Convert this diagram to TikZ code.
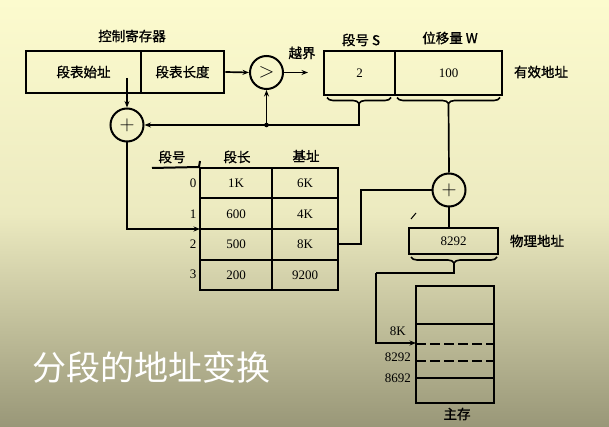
\documentclass[tikz,border=0pt]{standalone}
\usepackage{fontspec}
\setmainfont{Liberation Serif}
\newfontfamily\cjk{Noto Sans CJK SC}[AutoFakeBold=1.2]
\usetikzlibrary{arrows.meta,decorations.pathreplacing}
\definecolor{bgtop}{RGB}{252,251,206}
\definecolor{bgmid}{RGB}{236,234,192}
\definecolor{bgbot}{RGB}{153,151,120}
\begin{document}
\begin{tikzpicture}[x=1pt,y=-1pt,
  lab/.style={font=\cjk\bfseries\fontsize{13.5}{14}\selectfont, inner sep=0pt},
  num/.style={font=\fontsize{13}{14}\selectfont, inner sep=0pt},
  box/.style={draw, line width=2.6pt, inner sep=0pt, font=\cjk\bfseries\fontsize{13.5}{14}\selectfont},
  cell/.style={draw, line width=2pt, inner sep=0pt, minimum height=30.5, font=\fontsize{13}{14}\selectfont},
  conn/.style={line width=1.7pt},
  arr/.style={conn, -{Stealth[length=6.5pt,width=5pt]}},
  op/.style={circle, draw, line width=2pt, minimum size=33, inner sep=0pt, font=\fontsize{21}{21}\selectfont},
  brc/.style={decorate, decoration={brace, amplitude=6pt}, line width=1.6pt},
  dotted line/.style={line width=2pt, dash pattern=on 10pt off 4pt},
]
\fill[top color=bgtop, bottom color=bgbot, middle color=bgmid] (0,0) rectangle (609,427);

% control register
\node[lab] (ctl) at (132,36) {控制寄存器};
\node[box, minimum width=115, minimum height=42] (sbase) at (83.5,72) {段表始址};
\node[box, minimum width=83, minimum height=42] (slen) at (182.5,72) {段表长度};

% comparator and adder
\node[op] (cmp) at (266.5,72.5) {$>$};
\node[op] (add1) at (127,125) {$+$};
\node[lab] (ovf) at (302,53) {越界};
\coordinate (ovfend) at (308,72.5);

% effective address
\node[lab] (lS) at (361,40) {段号 S};
\node[lab] (lW) at (450,38) {位移量 W};
\node[box, minimum width=71, minimum height=44, font=\fontsize{13}{14}\selectfont] (segS) at (359.5,73) {2};
\node[box, minimum width=107, minimum height=44, font=\fontsize{13}{14}\selectfont] (offW) at (448.5,73) {100};
\node[lab] (eff) at (541,72) {有效地址};
\draw[brc] (391,97.5) -- (327,97.5);
\draw[brc] (500,97.5) -- (397,97.5);
\coordinate (bS) at (359,104);
\coordinate (bW) at (448.5,104);

% table
\node[lab] (h0) at (172,157) {段号};
\node[lab] (h1) at (237,157) {段长};
\node[lab] (h2) at (306,156) {基址};
\foreach \r/\a/\b in {0/1K/6K,1/600/4K,2/500/8K,3/200/9200}{
  \node[cell, minimum width=72] (c\r1) at (236,{183.25+30.5*\r}) {\a};
  \node[cell, minimum width=66] (c\r2) at (305,{183.25+30.5*\r}) {\b};
  \node[num] (r\r) at (193,{183.25+30.5*\r}) {\r};
}
\draw[line width=2pt] (152,168) -- (c01.north west);
\draw[line width=2pt] (200,161) -- (c01.north west);

% second adder, physical address
\node[op] (add2) at (449,190) {$+$};
\node[box, minimum width=89, minimum height=26, font=\fontsize{13}{14}\selectfont] (phys) at (453.5,241) {8292};
\node[lab] (physl) at (537,241) {物理地址};
\draw[brc] (497,257) -- (411,257);
\coordinate (bP) at (454,263);
\draw[line width=1pt] (411,219) -- (416,213);

% main memory
\node[draw, line width=2.6pt, minimum width=78, minimum height=117, inner sep=0pt] (mem) at (455,344.5) {};
\draw[line width=2.2pt] (416,324) -- (494,324);
\draw[dotted line] (416,344) -- (494,344);
\draw[dotted line] (416,361) -- (494,361);
\draw[line width=2.2pt] (416,378) -- (494,378);
\node[num, anchor=east] (m1) at (406,331) {8K};
\node[num, anchor=east] (m2) at (411,357) {8292};
\node[num, anchor=east] (m3) at (411,378) {8692};
\node[lab] (meml) at (457,414) {主存};

% connectors
\coordinate (sb) at (127,78);
\coordinate (jn) at (266.5,125);
\coordinate (trow) at (200,229);
\coordinate (k1) at (376,273);
\coordinate (mk) at (416,343);
\draw[arr] (sb) -- (add1.north);
\draw[arr] (slen.east) -- (cmp.west);
\draw[arr] (cmp.east) -- (ovfend);
\draw[arr] (bS) |- (add1.east);
\draw[arr] (jn) -- (cmp.south);
\fill (jn) circle (2.3pt);
\draw[arr] (add1.south) |- (trow);
\draw[conn] (c22.east) -- ++(22,0) |- (add2.west);
\draw[conn] (bW) -- (add2.north);
\draw[conn] (add2.south) -- (add2.south |- phys.north);
\draw[conn] (bP) |- (k1);
\draw[arr] (k1) |- (mk);

% title
\node[font=\cjk\fontsize{34}{34}\selectfont, text=white, inner sep=0pt] (title) at (151,367) {分段的地址变换};
\end{tikzpicture}
\end{document}
